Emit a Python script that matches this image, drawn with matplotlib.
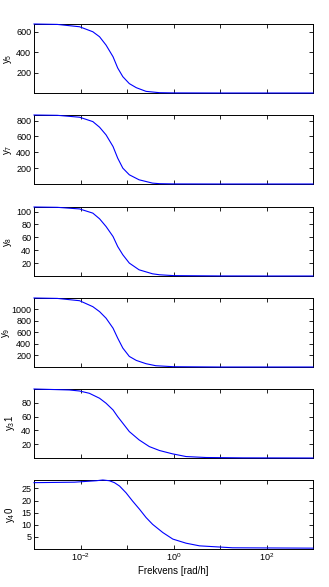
import matplotlib
matplotlib.use("Agg")
import matplotlib.pyplot as plt
import numpy as np
from matplotlib.ticker import FixedLocator, FuncFormatter, NullLocator

plt.rcParams['font.family'] = ['Liberation Sans', 'DejaVu Sans']
plt.rcParams['mathtext.default'] = 'regular'

# log10 av frekvens [rad/h] og lest verdi for hvert panel
logf_y5 = [-3, -2.5, -2.02, -1.735, -1.59, -1.45, -1.30, -1.20, -1.09, -0.95, -0.80, -0.59, -0.30, 0, 1, 2, 3]
y5 = [676, 672, 649, 600, 551, 469, 355, 245, 160, 92, 52, 16, 3, 1, 0, 0, 0]

logf_y7 = [-3, -2.5, -2.02, -1.735, -1.59, -1.45, -1.30, -1.20, -1.09, -0.95, -0.74, -0.45, -0.30, 0, 1, 2, 3]
y7 = [870, 866, 842, 787, 716, 619, 472, 326, 200, 116, 53, 11, 4, 1, 0, 0, 0]

logf_y8 = [-3, -2.5, -2.02, -1.735, -1.59, -1.45, -1.30, -1.20, -1.09, -0.95, -0.74, -0.45, -0.30, 0, 1, 2, 3]
y8 = [107, 106.5, 104, 97.5, 88.7, 76.7, 61.2, 45.7, 32.9, 20, 9.6, 3.4, 1.9, 0.6, 0.1, 0, 0]

logf_y9 = [-3, -2.5, -2.02, -1.735, -1.59, -1.45, -1.30, -1.20, -1.09, -0.95, -0.80, -0.59, -0.38, 0, 1, 2, 3]
y9 = [1195, 1188, 1148, 1045, 959, 845, 672, 500, 328, 183, 114, 57, 22, 5, 0, 0, 0]

logf_y31 = [-3, -2.24, -2.02, -1.81, -1.59, -1.45, -1.30, -1.20, -1.09, -0.95, -0.74, -0.52, -0.30, -0.02, 0.27, 0.70, 1.5, 3]
y31 = [99.8, 98.4, 96.9, 93.6, 86.4, 79.2, 69.5, 59.8, 50.3, 38.2, 26.2, 16.5, 10.8, 6.0, 2.1, 0.7, 0.2, 0]

logf_y40 = [-3, -2.13, -1.66, -1.52, -1.38, -1.27, -1.16, -1.02, -0.88, -0.73, -0.59, -0.45, -0.23, -0.015, 0.27, 0.56, 1.27, 3]
y40 = [27.4, 27.6, 28.2, 28.5, 28.2, 27.4, 26.0, 23.2, 19.8, 16.4, 13.0, 10.2, 6.8, 4.1, 2.4, 1.3, 0.5, 0.35]

panels = [
    (logf_y5, y5, 'y$_5$', [200, 400, 600]),
    (logf_y7, y7, 'y$_7$', [200, 400, 600, 800]),
    (logf_y8, y8, 'y$_8$', [20, 40, 60, 80, 100]),
    (logf_y9, y9, 'y$_9$', [200, 400, 600, 800, 1000]),
    (logf_y31, y31, 'y$_3$1', [20, 40, 60, 80]),
    (logf_y40, y40, 'y$_4$0', [5, 10, 15, 20, 25]),
]

fig = plt.figure(figsize=(3.29, 5.87), dpi=100)

W, H = 329.0, 587.0
venstre, hoyre = 34, 313
topper = [24, 115, 207, 298, 389, 480]
hoyde = 69
# hoyre kant av y-etiketten i piksler
etikett_x = [14, 14, 14, 12, 17, 17]

for i, (logf, y, navn, yticks) in enumerate(panels):
    topp = topper[i]
    ax = fig.add_axes([venstre / W, 1 - (topp + hoyde) / H, (hoyre - venstre) / W, hoyde / H])
    f = 10.0 ** np.array(logf)
    ax.plot(f, y, color=(0, 0, 1), lw=0.8, clip_on=False, zorder=3)
    ax.set_xscale('log')
    ax.set_xlim(1e-3, 1e3)
    ax.set_ylim(0, max(y))
    ax.xaxis.set_major_locator(FixedLocator([10.0 ** k for k in range(-3, 4)]))
    ax.xaxis.set_minor_locator(NullLocator())
    if i == len(panels) - 1:
        ax.xaxis.set_major_formatter(FuncFormatter(
            lambda v, p: '$10^{%d}$' % round(np.log10(v)) if round(np.log10(v)) in (-2, 0, 2) else ''))
        ax.set_xlabel('Frekvens [rad/h]', fontsize=7, labelpad=2)
    else:
        ax.set_xticklabels([])
    ax.set_yticks(yticks)
    ax.set_ylabel(navn, fontsize=7)
    ax.yaxis.set_label_coords((etikett_x[i] - venstre) / (hoyre - venstre), 0.5)
    ax.tick_params(direction='in', top=True, right=True, length=3, width=0.6, labelsize=6.5, pad=2)
    for s in ax.spines.values():
        s.set_linewidth(0.7)

fig.savefig('out.png', dpi=100)
